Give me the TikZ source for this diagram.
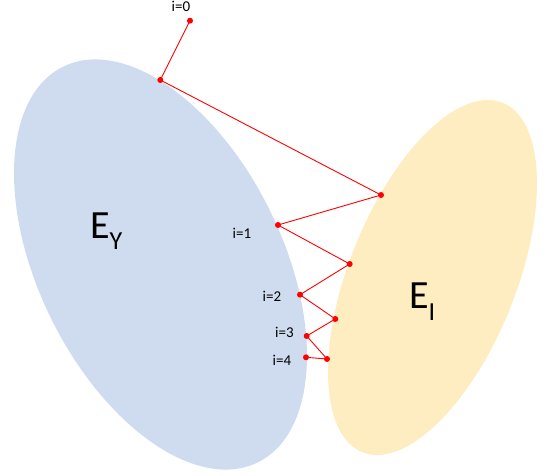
\documentclass[tikz,border=0pt]{standalone}
\usepackage{fontspec}
\setmainfont{Carlito}
\definecolor{eyblue}{RGB}{207,220,239}
\definecolor{eiyellow}{RGB}{255,237,194}
\begin{document}
\begin{tikzpicture}[x=1pt,y=-1pt,
  lbl/.style={font=\fontsize{15}{15}\selectfont, inner sep=0pt, anchor=base},
  big/.style={font=\fontsize{40}{40}\selectfont, inner sep=0pt, anchor=base west},
  link/.style={draw=red, line width=0.9pt},
  dot/.style={circle, fill=red, inner sep=0pt, minimum size=6pt}]
\useasboundingbox (0,0) rectangle (544,476);
% sets
\fill[eyblue] (160.5,264.5) ellipse [x radius=122, y radius=220.5, rotate=26.2];
\fill[eiyellow] (432.5,277.5) ellipse [x radius=83.5, y radius=188.3, rotate=-21.85];
% iteration points
\node[dot] (p0) at (190,20.7) {};
\node[dot] (p1) at (160.3,80) {};
\node[dot] (p2) at (381,195) {};
\node[dot] (p3) at (278,225) {};
\node[dot] (p4) at (349.7,264) {};
\node[dot] (p5) at (300,294.7) {};
\node[dot] (p6) at (335.3,319) {};
\node[dot] (p7) at (306.7,336) {};
\node[dot] (p8) at (327,359) {};
\node[dot] (p9) at (306,357.3) {};
\draw[link] (p0.center) -- (p1.center) -- (p2.center) -- (p3.center) -- (p4.center)
  -- (p5.center) -- (p6.center) -- (p7.center) -- (p8.center) -- (p9.center);
% labels
\node[lbl] (l0) at (181,11.5) {i=0};
\node[lbl] (l1) at (242,238) {i=1};
\node[lbl] (l2) at (272,301.7) {i=2};
\node[lbl] (l3) at (284.5,337.7) {i=3};
\node[lbl] (l4) at (282,365) {i=4};
\node[big] (ey) at (90,238) {E\raisebox{-12pt}{\fontsize{26}{26}\selectfont Y}};
\node[big] (ei) at (409,308) {E\raisebox{-13pt}{\fontsize{26}{26}\selectfont I}};
\end{tikzpicture}
\end{document}
